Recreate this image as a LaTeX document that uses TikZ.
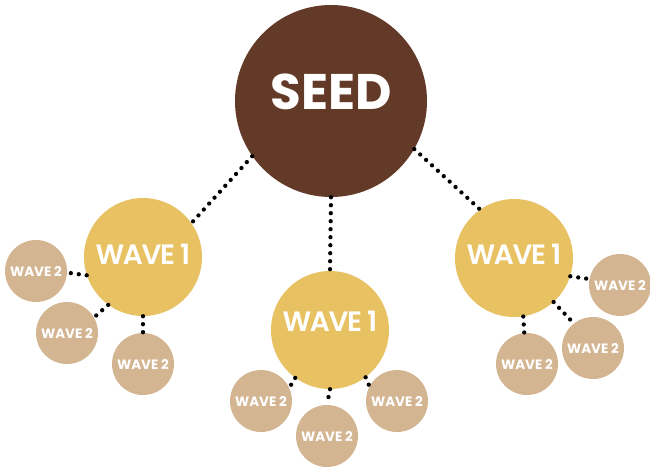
\documentclass[tikz,border=0pt]{standalone}
\usepackage{fontspec}
\setmainfont{Poppins}
\newfontfamily\wavefont{Poppins}[UprightFont=* SemiBold, LetterSpace=-5]
\definecolor{seedbrown}{HTML}{633A27}
\definecolor{waveone}{HTML}{E8C262}
\definecolor{wavetwo}{HTML}{D3B592}
\begin{document}
\begin{tikzpicture}[x=1pt, y=-1pt,
  seed/.style={circle, fill=seedbrown, text=white, minimum size=192pt, inner sep=0pt, font=\fontsize{50}{50}\selectfont\bfseries},
  wave/.style={circle, fill=waveone, text=white, minimum size=118pt, inner sep=0pt, font=\fontsize{28}{28}\wavefont},
  ripple/.style={circle, fill=wavetwo, text=white, minimum size=62pt, inner sep=0pt, font=\fontsize{13.5}{13.5}\selectfont\bfseries},
  link/.style={line width=4.3pt, line cap=round, dash pattern=on 0pt off 8pt}]
  \useasboundingbox (0,0) rectangle (650,467);
  \node [seed, text depth=18pt] (0) at (331,101) {SEED};
  \node [wave, text depth=6pt] (1) at (143,257) {WAVE 1};
  \node [wave, text depth=18pt] (2) at (330,330) {WAVE 1};
  \node [wave, text depth=8pt] (3) at (514,258) {WAVE 1};
  \node [ripple] (4) at (36,271) {WAVE 2};
  \node [ripple] (5) at (67,333) {WAVE 2};
  \node [ripple] (6) at (143,364) {WAVE 2};
  \node [ripple] (7) at (261,401) {WAVE 2};
  \node [ripple] (8) at (327,436) {WAVE 2};
  \node [ripple] (9) at (397,401) {WAVE 2};
  \node [ripple] (10) at (620,285) {WAVE 2};
  \node [ripple] (11) at (593,348) {WAVE 2};
  \node [ripple] (12) at (527,364) {WAVE 2};
  \draw [link] (0.215) -- (1.35);
  \draw [link] (0.270) -- (2.90);
  \draw [link] (0.-30) -- (3.125);
  \draw [link] (1.198) -- (4.-3);
  \draw [link] (1.234) -- (5.30);
  \draw [link] (1.270) -- (6.90);
  \draw [link] (2.234) -- (7.25);
  \draw [link] (2.270) -- (8.90);
  \draw [link] (2.307) -- (9.152);
  \draw [link] (3.-18) -- (10.169);
  \draw [link] (3.-48) -- (11.128);
  \draw [link] (3.-81) -- (12.95);
\end{tikzpicture}
\end{document}
